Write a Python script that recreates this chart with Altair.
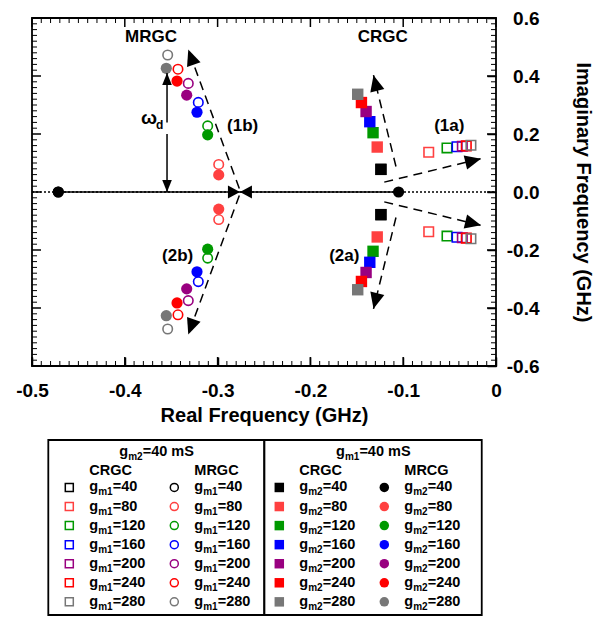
import math
import altair as alt
import pandas as pd

# ------------------------------------------------------------------ data
GM = [40, 80, 120, 160, 200, 240, 280]
COLORS = ["#000000", "#FF4040", "#009900", "#0000FF", "#990080", "#FF0000", "#777777"]

# CRGC, gm2 = 40 mS, gm1 swept (open squares) - upper branch (lower is conjugate)
CRGC_GM1_RE = [-0.124, -0.0725, -0.0528, -0.0420, -0.0363, -0.0320, -0.0270]
CRGC_GM1_IM = [0.078, 0.137, 0.152, 0.156, 0.158, 0.159, 0.161]
# CRGC, gm1 = 40 mS, gm2 swept (filled squares)
CRGC_GM2_RE = [-0.124, -0.128, -0.1325, -0.136, -0.140, -0.145, -0.149]
CRGC_GM2_IM = [0.078, 0.155, 0.2045, 0.2425, 0.2775, 0.3085, 0.337]
# MRGC, gm2 = 40 mS, gm1 swept (open circles)
MRGC_GM1_RE = [-0.4717, -0.2988, -0.3107, -0.3208, -0.3316, -0.3427, -0.3538]
MRGC_GM1_IM = [0.0, 0.095, 0.228, 0.309, 0.3745, 0.4235, 0.4725]
# MRGC, gm1 = 40 mS, gm2 swept (filled circles)
MRGC_GM2_RE = [-0.4717, -0.2988, -0.3107, -0.3222, -0.3333, -0.3437, -0.3553]
MRGC_GM2_IM = [0.0, 0.059, 0.197, 0.275, 0.334, 0.3825, 0.4265]
# real pole of the CRGC
CRGC_POLE_RE = [-0.105]
CRGC_POLE_IM = [0.0]

# root-locus direction arrows (start -> tip)
ARROW_X0 = [-0.1204, -0.1204, -0.1078, -0.1078, -0.2766, -0.2766]
ARROW_Y0 = [0.034, -0.034, 0.088, -0.088, 0.012, -0.012]
ARROW_X1 = [-0.0162, -0.0162, -0.1320, -0.1320, -0.3316, -0.3316]
ARROW_Y1 = [0.115, -0.115, 0.403, -0.403, 0.491, -0.491]
# two heads meeting on the real axis
MEET_RE = -0.2759
# omega_d marker
OMEGA_RE = -0.3545
OMEGA_SEG_Y0 = [0.0, 0.24]
OMEGA_SEG_Y1 = [0.2, 0.41]

LABEL_TEXT = ["MRGC", "CRGC", "(1a)", "(2a)", "(1b)", "(2b)"]
LABEL_X = [-0.3718, -0.122, -0.0503, -0.1635, -0.273, -0.343]
LABEL_Y = [0.533, 0.533, 0.227, -0.220, 0.227, -0.220]

X_MAJOR = [-0.5, -0.4, -0.3, -0.2, -0.1, 0.0]
Y_MAJOR = [-0.6, -0.4, -0.2, 0.0, 0.2, 0.4, 0.6]
X_MINOR = [round(-0.5 + 0.01 * i, 2) for i in range(51) if i % 10]
Y_MINOR = [round(-0.6 + 0.02 * i, 2) for i in range(61) if i % 10]

LEG_SERIES = ["CRGC", "MRGC", "CRGC", "MRCG"]
LEG_SUB = ["m1", "m1", "m2", "m2"]
LEG_KIND = ["osq", "oci", "fsq", "fci"]
LEG_HEAD_SUB = ["m2", "m1"]
LEG_HEAD_REST = "=40 mS"

# ------------------------------------------------------------------ style
FONT = "Liberation Sans"
W, H = 464, 348
X_LO, X_HI = -0.5, 0.0
Y_LO, Y_HI = -0.6, 0.6
XS = alt.Scale(domain=[X_LO, X_HI], nice=False, zero=False)
YS = alt.Scale(domain=[Y_LO, Y_HI], nice=False, zero=False)
PX_X = (X_HI - X_LO) / W   # data units per pixel
PX_Y = (Y_HI - Y_LO) / H
ARROW_PATH = "M0,0L0.9,2L-0.9,2Z"
WIDE_ARROW_PATH = "M0,0L1.1,2L-1.1,2Z"
NARROW_ARROW_PATH = "M0,0L0.8,2L-0.8,2Z"
TICK_PATH = "M0,0L0,-2"          # a stroke starting at the frame, pointing inward
MAJOR_LEN, MINOR_LEN = 9, 5

LABEL_X_EXPR = "datum.value == 0 ? '0' : (datum.value < 0 ? '-' : '') + format(abs(datum.value), '.1f')"
LABEL_Y_EXPR = "(datum.value < -0.0001 ? '-' : '') + format(abs(datum.value), '.1f')"
AX_COMMON = dict(domain=False, grid=False, ticks=True, tickSize={"expr": str(-MAJOR_LEN)},
                 tickColor="black", tickWidth=1.5,
                 labelFont=FONT, labelFontSize=19,
                 labelFontWeight="bold", labelColor="black", labelFlush=False, labelOverlap=False,
                 titleFont=FONT, titleFontSize=20, titleFontWeight="bold", titleColor="black")
X_AX = alt.Axis(orient="bottom", values=X_MAJOR, labelExpr=LABEL_X_EXPR, labelPadding=15 + MAJOR_LEN,
                titlePadding=5, title="Real Frequency (GHz)", **AX_COMMON)
Y_AX = alt.Axis(orient="right", values=Y_MAJOR, labelExpr=LABEL_Y_EXPR, labelPadding=43 + MAJOR_LEN,
                labelAlign="right", labelBaseline="middle", titlePadding=33,
                title="Imaginary Frequency (GHz)", **AX_COMMON)


def ex(f):
    return alt.X(f"{f}:Q", scale=XS, axis=X_AX)


def ey(f):
    return alt.Y(f"{f}:Q", scale=YS, axis=Y_AX)


def series_df(re, im):
    rows = []
    for g, c, r, i in zip(GM, COLORS, re, im):
        rows.append({"re": r, "im": i, "color": c})
        if i != 0:
            rows.append({"re": r, "im": -i, "color": c})
    return pd.DataFrame(rows)


def marker_layer(df, shape, filled, size):
    if filled:
        mk = alt.Chart(df).mark_point(shape=shape, filled=True, size=size, opacity=1)
    else:
        mk = alt.Chart(df).mark_point(shape=shape, filled=False, size=size, opacity=1, strokeWidth=1.6)
    return mk.encode(x=ex("re"), y=ey("im"), color=alt.Color("color:N", scale=None))


markers = [
    marker_layer(series_df(CRGC_GM1_RE, CRGC_GM1_IM), "square", False, 90),
    marker_layer(series_df(MRGC_GM1_RE, MRGC_GM1_IM), "circle", False, 90),
    marker_layer(series_df(CRGC_GM2_RE, CRGC_GM2_IM), "square", True, 130),
    marker_layer(series_df(MRGC_GM2_RE, MRGC_GM2_IM), "circle", True, 125),
    marker_layer(pd.DataFrame({"re": CRGC_POLE_RE, "im": CRGC_POLE_IM, "color": ["#000000"]}), "circle", True, 125),
]

dotted = alt.Chart(pd.DataFrame({"a": [X_LO], "b": [X_HI], "y": [0.0]})).mark_rule(
    color="black", strokeWidth=1.3, strokeDash=[2, 2]
).encode(x=ex("a"), x2=alt.X2("b"), y=ey("y"))

solid = alt.Chart(pd.DataFrame({"a": [MRGC_GM2_RE[0]], "b": [CRGC_POLE_RE[0]], "y": [0.0]})).mark_rule(
    color="black", strokeWidth=1.5
).encode(x=ex("a"), x2=alt.X2("b"), y=ey("y"))

dash_df = pd.DataFrame({"x0": ARROW_X0, "y0": ARROW_Y0, "x1": ARROW_X1, "y1": ARROW_Y1})
dashed = alt.Chart(dash_df).mark_rule(color="black", strokeWidth=1.5, strokeDash=[9, 6]).encode(
    x=ex("x0"), y=ey("y0"), x2=alt.X2("x1"), y2=alt.Y2("y1")
)

omega_df = pd.DataFrame({"x": [OMEGA_RE] * 2, "y0": OMEGA_SEG_Y0, "y1": OMEGA_SEG_Y1})
omega_line = alt.Chart(omega_df).mark_rule(color="black", strokeWidth=1.5).encode(
    x=ex("x"), y=ey("y0"), y2=alt.Y2("y1")
)


def ang(dx, dy):
    return (math.degrees(math.atan2(dx / PX_X, dy / PX_Y)) + 360) % 360


big_heads = [{"x": x1, "y": y1, "ang": ang(x1 - x0, y1 - y0)}
             for x0, y0, x1, y1 in zip(ARROW_X0, ARROW_Y0, ARROW_X1, ARROW_Y1)]
meet_heads = [{"x": MEET_RE, "y": 0.0, "ang": ang(1, 0)},
              {"x": MEET_RE, "y": 0.0, "ang": ang(-1, 0)}]
omega_heads = [{"x": OMEGA_RE, "y": OMEGA_SEG_Y0[0], "ang": ang(0, -1)},
               {"x": OMEGA_RE, "y": OMEGA_SEG_Y1[-1], "ang": ang(0, 1)}]


def head_layer(rows, path, size):
    return alt.Chart(pd.DataFrame(rows)).mark_point(
        shape=path, filled=True, color="black", opacity=1, size=size
    ).encode(x=ex("x"), y=ey("y"), angle=alt.Angle("ang:Q", scale=None))


heads = [
    head_layer(big_heads, ARROW_PATH, 256),
    head_layer(meet_heads, WIDE_ARROW_PATH, 144),
    head_layer(omega_heads, NARROW_ARROW_PATH, 144),
]

labels = alt.Chart(pd.DataFrame({"t": LABEL_TEXT, "x": LABEL_X, "y": LABEL_Y})).mark_text(
    font=FONT, fontWeight="bold", fontSize=17, color="black", align="center", baseline="middle"
).encode(x=ex("x"), y=ey("y"), text="t:N")

omega_txt = alt.Chart(pd.DataFrame({"t": ["ω"], "x": [-0.374], "y": [0.256]})).mark_text(
    font=FONT, fontWeight="bold", fontSize=19, color="black", align="center", baseline="middle"
).encode(x=ex("x"), y=ey("y"), text="t:N")
omega_sub = alt.Chart(pd.DataFrame({"t": ["d"], "x": [-0.3625], "y": [0.232]})).mark_text(
    font=FONT, fontWeight="bold", fontSize=12, color="black", align="center", baseline="middle"
).encode(x=ex("x"), y=ey("y"), text="t:N")


# ------------------------------------------------------------------ frame + inward ticks on all four sides
frame = alt.Chart(pd.DataFrame({"a": [X_LO], "b": [X_HI], "c": [Y_LO], "d": [Y_HI]})).mark_rect(
    fill="transparent", stroke="black", strokeWidth=1.8
).encode(x=ex("a"), x2=alt.X2("b"), y=ey("c"), y2=alt.Y2("d"))


def tick_layer(xvals, yvals, ln, width):
    rows = []
    for v in xvals:
        rows.append({"tx": v, "ty": Y_LO, "ang": 0})
        rows.append({"tx": v, "ty": Y_HI, "ang": 180})
    for v in yvals:
        rows.append({"tx": X_LO, "ty": v, "ang": 90})
        rows.append({"tx": X_HI, "ty": v, "ang": 270})
    return alt.Chart(pd.DataFrame(rows)).mark_point(
        shape=TICK_PATH, filled=False, color="black", strokeWidth=width, opacity=1, size=ln * ln
    ).encode(x=ex("tx"), y=ey("ty"), angle=alt.Angle("ang:Q", scale=None))


ticks = [tick_layer(X_MAJOR, Y_MAJOR, MAJOR_LEN, 1.5), tick_layer(X_MINOR, Y_MINOR, MINOR_LEN, 1.0)]

main = alt.layer(
    dotted, solid, *markers, dashed, omega_line, *heads, labels, omega_txt, omega_sub, frame, *ticks
).properties(width=W, height=H, view=alt.ViewBackground(stroke="transparent"))

# ------------------------------------------------------------------ legend panel
LH = 175
# horizontal slot units: one slot per symbol column
LXS = alt.Scale(domain=[(31 - 68.3) / 105, (31 + W - 68.3) / 105], nice=False, zero=False)
# vertical row units: row 0 = first entry
LYS = alt.Scale(domain=[6.69, -2.49], nice=False, zero=False)


def lx(f):
    return alt.X(f"{f}:Q", scale=LXS, axis=None)


def ly(f):
    return alt.Y(f"{f}:Q", scale=LYS, axis=None)


leg_rows = []
for c in range(4):
    for r, (g, col) in enumerate(zip(GM, COLORS)):
        leg_rows.append({"c": c, "r": r, "color": col, "kind": LEG_KIND[c],
                         "sub": LEG_SUB[c], "val": f"={g}", "g": "g"})
leg_df = pd.DataFrame(leg_rows)


def leg_sym(kind, shape, filled, size):
    d = leg_df[leg_df.kind == kind]
    if filled:
        mk = alt.Chart(d).mark_point(shape=shape, filled=True, size=size, opacity=1)
    else:
        mk = alt.Chart(d).mark_point(shape=shape, filled=False, size=size, opacity=1, strokeWidth=1.5)
    return mk.encode(x=lx("c"), y=ly("r"), color=alt.Color("color:N", scale=None))


def leg_text(df, field, dx, dy, size, align="left"):
    return alt.Chart(df).mark_text(
        font=FONT, fontWeight="bold", fontSize=size, color="black", align=align,
        baseline="middle", dx=dx, dy=dy
    ).encode(x=lx("c"), y=ly("r"), text=f"{field}:N")


head_df = pd.DataFrame({"c": [0.476, 2.540], "r": [-1.87, -1.87], "g": ["g", "g"],
                        "sub": LEG_HEAD_SUB, "rest": [LEG_HEAD_REST] * 2})
series_df_leg = pd.DataFrame({"c": [0, 1, 2, 3], "r": [-0.884] * 4, "t": LEG_SERIES})
box_df = pd.DataFrame({"a": [-0.2, 1.857], "b": [1.857, 3.928], "y0": [-2.49, -2.49], "y1": [6.69, 6.69]})

box = alt.Chart(box_df).mark_rect(fill="transparent", stroke="black", strokeWidth=1.8).encode(
    x=lx("a"), x2=alt.X2("b"), y=ly("y0"), y2=alt.Y2("y1")
)

legend = alt.layer(
    box,
    leg_sym("osq", "square", False, 64),
    leg_sym("oci", "circle", False, 64),
    leg_sym("fsq", "square", True, 90),
    leg_sym("fci", "circle", True, 90),
    leg_text(leg_df, "g", 20, 0, 14.5),
    leg_text(leg_df, "sub", 28.9, 5, 10),
    leg_text(leg_df, "val", 43.4, 0, 14.5),
    leg_text(head_df, "g", 0, 0, 14.5),
    leg_text(head_df, "sub", 8.9, 5, 10),
    leg_text(head_df, "rest", 23.4, 0, 14.5),
    leg_text(series_df_leg, "t", 20, 0, 14.5),
).properties(width=W, height=LH, view=alt.ViewBackground(stroke="transparent"))

chart = alt.vconcat(main, legend, spacing=74, bounds="flush").properties(
    padding={"left": 7, "top": 0, "right": 0, "bottom": 0}
).configure(font=FONT).configure_view(stroke="transparent")

chart.save("out.html", embed_options={"renderer": "svg", "actions": False})
